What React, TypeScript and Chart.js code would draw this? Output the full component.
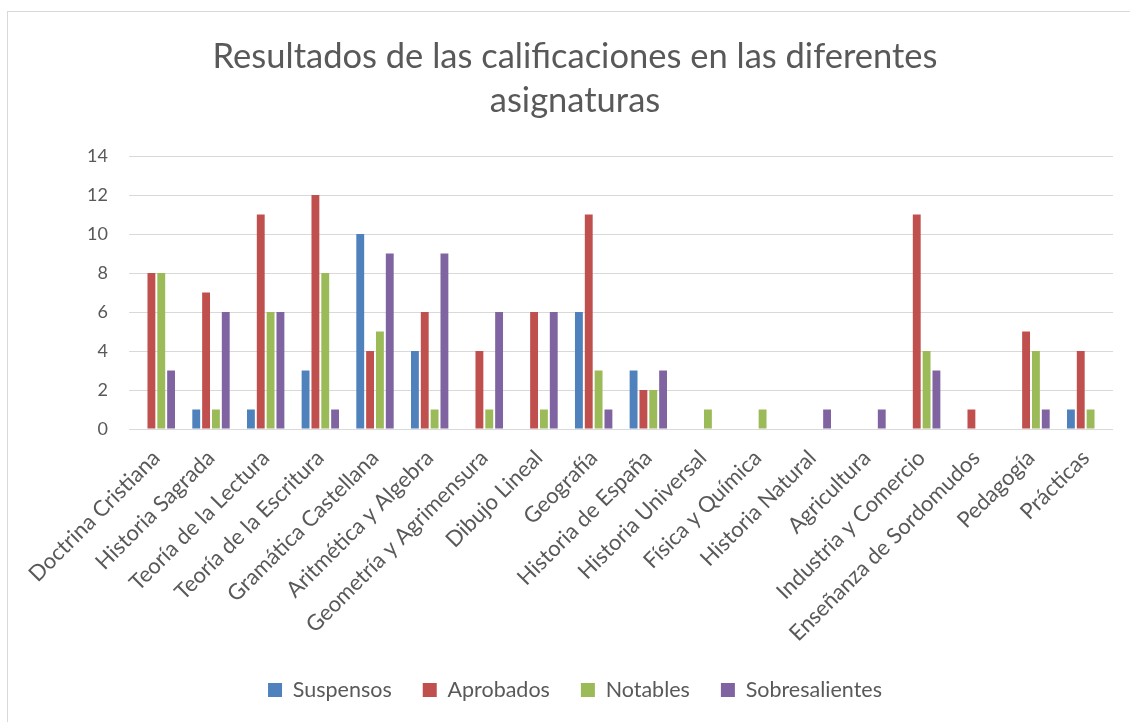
import React, { useEffect, useRef } from 'react';
import { Chart, registerables } from 'chart.js';

Chart.register(...registerables);

const categories = [
  'Doctrina Cristiana',
  'Historia Sagrada',
  'Teoría de la Lectura',
  'Teoría de la Escritura',
  'Gramática Castellana',
  'Aritmética y Algebra',
  'Geometría y Agrimensura',
  'Dibujo Lineal',
  'Geografía',
  'Historia de España',
  'Historia Universal',
  'Física y Química',
  'Historia Natural',
  'Agricultura',
  'Industria y Comercio',
  'Enseñanza de Sordomudos',
  'Pedagogía',
  'Prácticas',
];

const suspensos = [0, 1, 1, 3, 10, 4, 0, 0, 6, 3, 0, 0, 0, 0, 0, 0, 0, 1];
const aprobados = [8, 7, 11, 12, 4, 6, 4, 6, 11, 2, 0, 0, 0, 0, 11, 1, 5, 4];
const notables = [8, 1, 6, 8, 5, 1, 1, 1, 3, 2, 1, 1, 0, 0, 4, 0, 4, 1];
const sobresalientes = [3, 6, 6, 1, 9, 9, 6, 6, 1, 3, 0, 0, 1, 1, 3, 0, 1, 0];

const seriesNames = ['Suspensos', 'Aprobados', 'Notables', 'Sobresalientes'];
const seriesColors = ['#4F81BD', '#C0504D', '#9BBB59', '#8064A2'];

const titleLines = ['Resultados de las calificaciones en las diferentes', 'asignaturas'];
const yMin = 0;
const yMax = 14;
const yStep = 2;

const FONT = 'Lato';
const TEXT = '#595959';
const GRID = '#D9D9D9';

const frameBorder = {
  id: 'frameBorder',
  beforeDraw(chart: any) {
    const ctx = chart.ctx;
    ctx.save();
    ctx.fillStyle = '#ffffff';
    ctx.fillRect(0, 0, chart.width, chart.height);
    ctx.strokeStyle = '#D9D9D9';
    ctx.lineWidth = 1;
    ctx.strokeRect(7.5, 11.5, chart.width + 50, chart.height + 50);
    ctx.restore();
  },
};

export default function App() {
  const ref = useRef<HTMLCanvasElement>(null);

  useEffect(() => {
    document.body.style.margin = '0';
    document.body.style.overflow = 'hidden';
    const values = [suspensos, aprobados, notables, sobresalientes];
    const chart = new Chart(ref.current as HTMLCanvasElement, {
      type: 'bar',
      data: {
        labels: categories,
        datasets: seriesNames.map((name, i) => ({
          label: name,
          data: values[i],
          backgroundColor: seriesColors[i],
          borderWidth: 0,
          categoryPercentage: 0.72,
          barPercentage: 0.8,
        })),
      },
      options: {
        responsive: false,
        animation: false,
        layout: { padding: { left: 20, right: 0, top: 0, bottom: 11.25 } },
        plugins: {
          tooltip: { enabled: false },
          title: {
            display: true,
            text: titleLines,
            color: TEXT,
            font: { family: FONT, size: 34.5, weight: 'normal', lineHeight: 44 / 34.5 },
            padding: { top: 35, bottom: 33 },
          },
          legend: {
            position: 'bottom',
            labels: {
              boxWidth: 14,
              boxHeight: 14,
              padding: 31,
              color: TEXT,
              font: { family: FONT, size: 21.5 },
            },
          },
        },
        scales: {
          x: {
            grid: { display: false },
            border: { display: false },
            ticks: {
              color: TEXT,
              font: { family: FONT, size: 22 },
              minRotation: 45,
              maxRotation: 45,
              autoSkip: false,
              padding: 8,
            },
            afterFit(scale: any) {
              scale.height = 219.25;
            },
          },
          y: {
            min: yMin,
            max: yMax,
            ticks: {
              stepSize: yStep,
              color: TEXT,
              font: { family: FONT, size: 18 },
              padding: 21,
            },
            grid: { color: GRID, lineWidth: 1, drawTicks: false },
            border: { display: false },
            afterFit(scale: any) {
              scale.width = 109;
            },
          },
          yRight: {
            position: 'right',
            display: true,
            grid: { display: false },
            border: { display: false },
            ticks: { display: false },
            afterFit(scale: any) {
              scale.width = 17;
            },
          },
        },
      },
      plugins: [frameBorder],
    } as any);
    return () => chart.destroy();
  }, []);

  return (
    <div style={{ width: 1130, height: 722 }}>
      <canvas ref={ref} width={1130} height={722} />
    </div>
  );
}
